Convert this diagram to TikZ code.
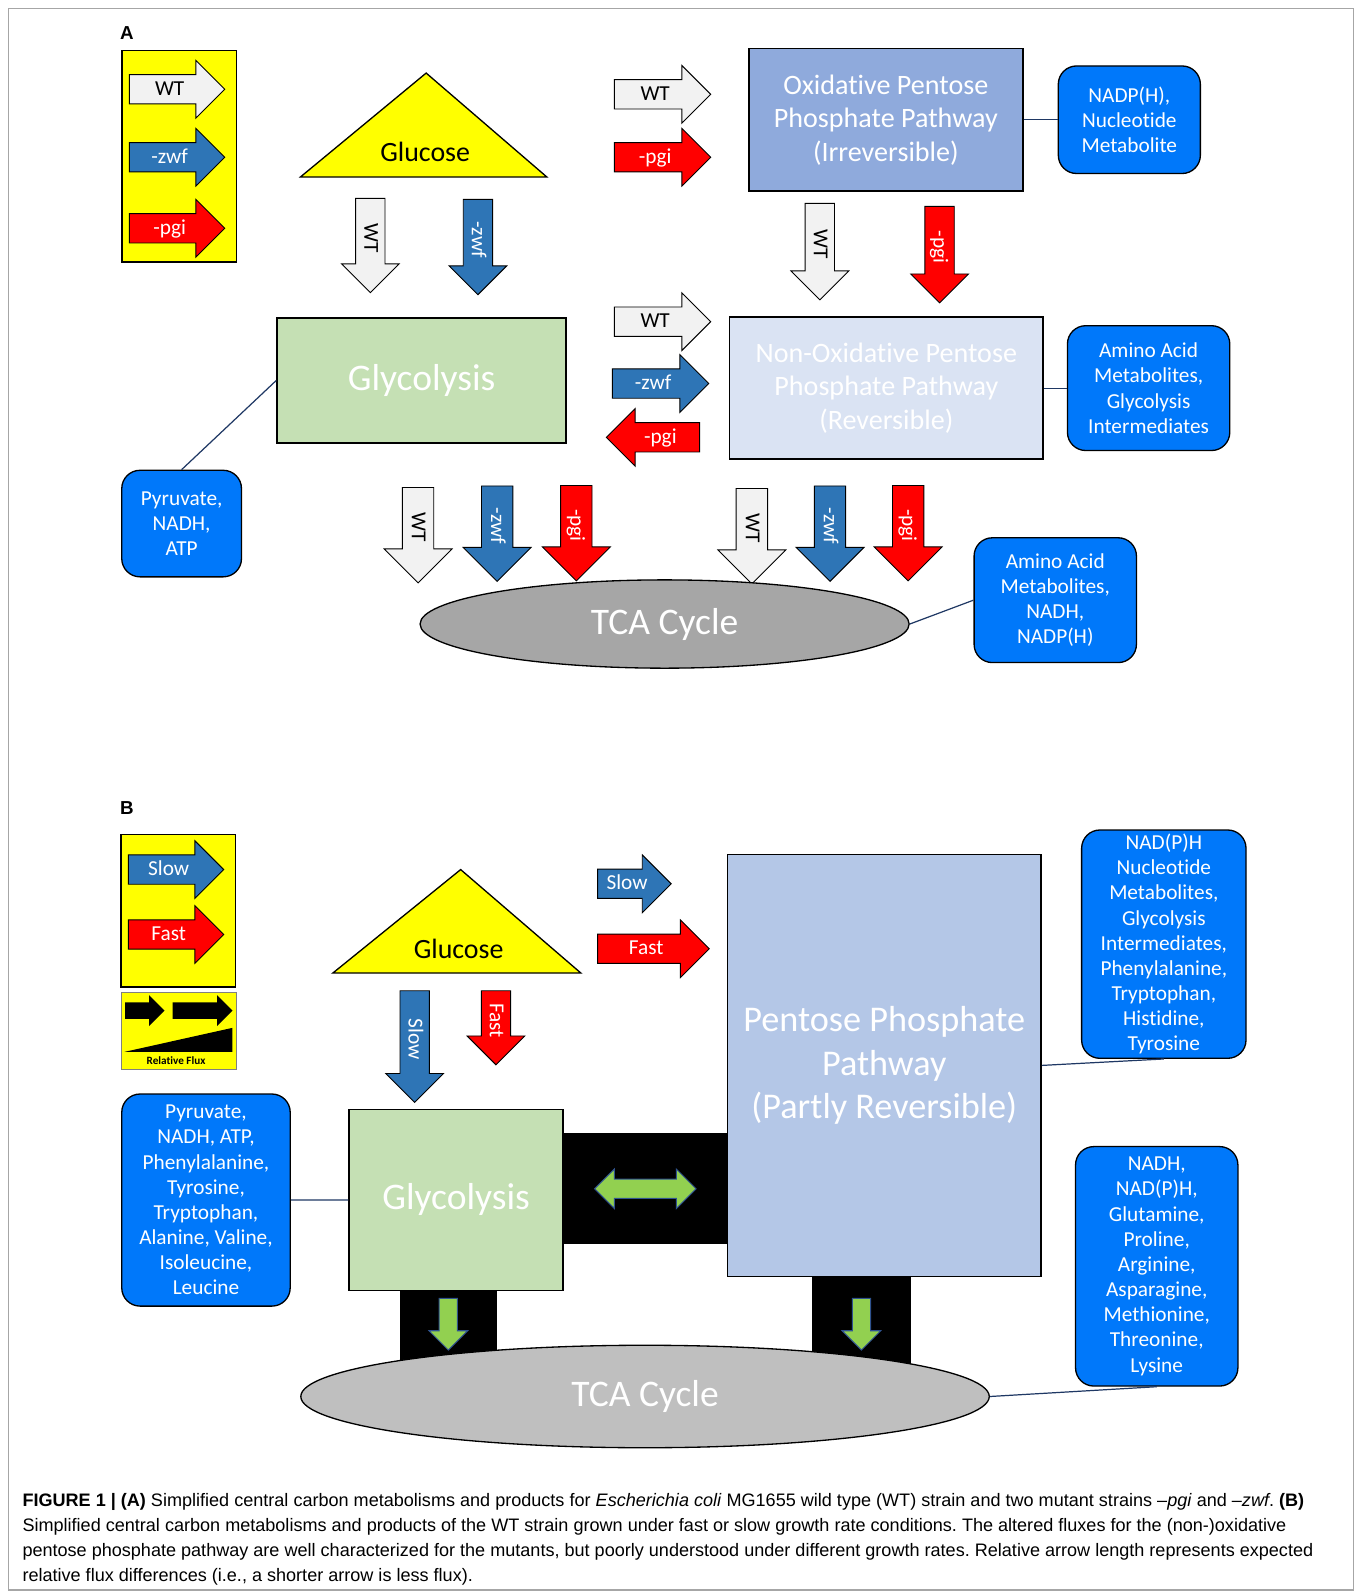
\documentclass[tikz,border=0pt]{standalone}
\usepackage{fontspec}
\setmainfont{Carlito}[Ligatures={TeX,NoCommon}]
\newfontfamily\capfont{Liberation Sans}
\newfontfamily\panelfont{Liberation Sans}
\usetikzlibrary{shapes.arrows, shapes.geometric}
\frenchspacing

\definecolor{wtgray}{HTML}{F2F2F2}
\definecolor{zwfblue}{HTML}{2E75B6}
\definecolor{pgired}{HTML}{FF0000}
\definecolor{legyellow}{HTML}{FFFF00}
\definecolor{glycgreen}{HTML}{C5E0B4}
\definecolor{oxblue}{HTML}{8FAADC}
\definecolor{nonoxblue}{HTML}{DAE3F3}
\definecolor{pppblue}{HTML}{B4C7E7}
\definecolor{infoblue}{HTML}{0078FA}
\definecolor{tcadark}{HTML}{A6A6A6}
\definecolor{tcalight}{HTML}{BFBFBF}
\definecolor{linkblue}{HTML}{1F3864}
\definecolor{fluxgreen}{HTML}{92D050}
\definecolor{fluxedge}{HTML}{2F528F}

\tikzset{
  flux/.style={single arrow, draw=black, line width=0.9pt, single arrow tip angle=90,
    inner xsep=1pt, inner ysep=5pt, text height=15pt, text depth=3pt,
    single arrow head extend=14pt, minimum width=56pt, minimum height=94pt,
    font=\fontsize{21}{21}\selectfont},
  wt/.style={flux, fill=wtgray, text=black},
  zwf/.style={flux, fill=zwfblue, text=white},
  pgi/.style={flux, fill=pgired, text=white},
  todown/.style={rotate=-90, anchor=tail},
  wide/.style={inner ysep=6pt, single arrow head extend=18pt, minimum width=66pt},
  box/.style={draw=black, line width=1.5pt, inner sep=0pt, align=center, text=white},
  info/.style={draw=black, line width=1.3pt, rounded corners=18pt, fill=infoblue,
    text=white, align=center, inner sep=0pt, font=\fontsize{21}{24.8}\selectfont},
  tca/.style={ellipse, draw=black, line width=1.3pt, inner sep=0pt, text=white,
    font=\fontsize{37}{37}\selectfont},
  link/.style={draw=linkblue, line width=1.2pt},
  green/.style={fill=fluxgreen, draw=fluxedge, line width=1pt, inner sep=0pt,
    text height=0pt, text depth=0pt},
}

\begin{document}
\begin{tikzpicture}[x=1pt, y=-1pt]
  \useasboundingbox (0,0) rectangle (1340,1568);
  \fill[white] (0,0) rectangle (1340,1568);
  \draw[gray!70, line width=1pt] (8,8) rectangle (1334,1567);

  % Panel A
  \node[font=\panelfont\bfseries\fontsize{18.5}{18.5}\selectfont] (labA) at (125,33) {A};
  \node[draw=black, line width=1.5pt, fill=legyellow, minimum width=113pt, minimum height=208pt] (legA) at (176.5,154) {};
  \node[wt, anchor=tail] (lwt) at (127,88) {WT};
  \node[zwf, anchor=tail] (lzwf) at (127,155) {-zwf};
  \node[pgi, anchor=tail] (lpgi) at (127,225) {-pgi};

  % Glucose and Glycolysis
  \draw[fill=legyellow, line width=1.3pt] (296,174.5) -- (420,72) -- (539,174.5) -- cycle;
  \node[font=\fontsize{27.5}{27.5}\selectfont] (glucA) at (419,150) {Glucose};
  \node[wt, todown, minimum height=93pt] (g1) at (365,195) {WT};
  \node[zwf, todown] (g2) at (471,196) {-zwf};
  \node[box, fill=glycgreen, minimum width=285pt, minimum height=123pt,
    font=\fontsize{37}{37}\selectfont] (glycA) at (415.5,375) {Glycolysis};

  % Oxidative branch
  \node[wt, anchor=tail, minimum height=95pt] (o1) at (605,93) {WT};
  \node[pgi, anchor=tail, minimum height=95pt] (o2) at (605,155) {-pgi};
  \node[box, fill=oxblue, minimum width=270pt, minimum height=140pt,
    font=\fontsize{27.7}{33}\selectfont] (oxA) at (873,118)
    {Oxidative Pentose\\Phosphate Pathway\\(Irreversible)};
  \node[info, minimum width=140pt, minimum height=106pt] (nadpA) at (1113,118)
    {NADP(H),\\Nucleotide\\Metabolite};
  \node[wt, todown, minimum height=95pt] (d1) at (808,200) {WT};
  \node[pgi, todown, minimum height=95pt] (d2) at (926,203) {-pgi};

  % Non-oxidative branch
  \node[wt, anchor=tail, minimum height=95pt] (m1) at (605,317) {WT};
  \node[zwf, anchor=tail, minimum height=95pt] (m2) at (603,378) {-zwf};
  \node[pgi, shape border rotate=180, anchor=tail, minimum height=92pt] (m3) at (690,431) {-pgi};
  \node[box, fill=nonoxblue, minimum width=309pt, minimum height=140pt,
    font=\fontsize{27.7}{33}\selectfont] (nonoxA) at (873.5,382.5)
    {Non-Oxidative Pentose\\Phosphate Pathway\\(Reversible)};
  \node[info, minimum width=160pt, minimum height=123pt] (aminoA) at (1132,382.5)
    {Amino Acid\\Metabolites,\\Glycolysis\\Intermediates};
  \node[info, minimum width=118pt, minimum height=105pt] (pyrA) at (179,516)
    {Pyruvate,\\NADH,\\ATP};

  % Into the TCA cycle
  \node[wt, wide, todown] (t1) at (412,480) {WT};
  \node[zwf, wide, todown] (t2) at (490,478.5) {-zwf};
  \node[pgi, wide, todown] (t3) at (568,478) {-pgi};
  \node[wt, wide, todown] (t4) at (741,481) {WT};
  \node[zwf, wide, todown] (t5) at (818,478.5) {-zwf};
  \node[pgi, wide, todown] (t6) at (895,478) {-pgi};
  \node[tca, fill=tcadark, minimum width=482pt, minimum height=87pt] (tcaA) at (655,615) {TCA Cycle};
  \node[info, minimum width=160pt, minimum height=123pt] (aminoB) at (1040,591.5)
    {Amino Acid\\Metabolites,\\NADH,\\NADP(H)};

  % Links
  \draw[link] (oxA.east) -- (nadpA.west);
  \draw[link] (nonoxA.east) -- (aminoA.west);
  \draw[link] (pyrA.north) -- (glycA.west);
  \draw[link] (tcaA.east) -- (aminoB.west);

  % Panel B
  \node[font=\panelfont\bfseries\fontsize{18.5}{18.5}\selectfont] (labB) at (125,796) {B};
  \node[draw=black, line width=1.5pt, fill=legyellow, minimum width=113pt, minimum height=150pt] (legB) at (175.5,897.5) {};
  \node[zwf, anchor=tail] (lslow) at (126,857) {Slow};
  \node[pgi, anchor=tail] (lfast) at (126,921) {Fast};
  \node[draw=gray, line width=0.8pt, fill=legyellow, minimum width=113pt, minimum height=76pt] (relB) at (176.5,1016) {};
  \node[single arrow, fill=black, single arrow tip angle=90, inner sep=0pt, inner ysep=8pt,
    text height=0pt, text depth=0pt, single arrow head extend=7pt, minimum width=30pt,
    minimum height=39pt, anchor=tail] (r1) at (123,996) {};
  \node[single arrow, fill=black, single arrow tip angle=90, inner sep=0pt, inner ysep=8pt,
    text height=0pt, text depth=0pt, single arrow head extend=7pt, minimum width=30pt,
    minimum height=59pt, anchor=tail] (r2) at (170,996) {};
  \fill[black] (122.5,1036.7) -- (229,1013) -- (229,1036.7) -- cycle;
  \node[font=\bfseries\fontsize{11}{11}\selectfont] (relflux) at (173.5,1045.5) {Relative Flux};

  \draw[fill=legyellow, line width=1.3pt] (328,959) -- (454,857) -- (572.5,959) -- cycle;
  \node[font=\fontsize{27.5}{27.5}\selectfont] (glucB) at (452,935) {Glucose};
  \node[zwf, todown, minimum height=110pt] (s1) at (408.7,976) {Slow};
  \node[pgi, todown, minimum height=73pt] (f1) at (488.8,976) {Fast};
  \node[zwf, anchor=tail, minimum height=72.5pt] (s2) at (588.5,871) {Slow};
  \node[pgi, anchor=tail, minimum height=110pt] (f2) at (588.6,935) {Fast};

  % Black channels
  \fill[black] (550,1116.6) rectangle (720,1226);
  \fill[black] (393.8,1260) rectangle (490,1380);
  \fill[black] (800.4,1250) rectangle (897.7,1380);

  \node[box, fill=glycgreen, minimum width=211pt, minimum height=178pt,
    font=\fontsize{37}{37}\selectfont] (glycB) at (449.5,1182.6) {Glycolysis};
  \node[box, fill=pppblue, minimum width=309pt, minimum height=416pt,
    font=\fontsize{35.7}{43}\selectfont] (pppB) at (871.5,1050)
    {Pentose Phosphate\\Pathway\\(Partly Reversible)};
  \node[tca, fill=tcalight, minimum width=678.5pt, minimum height=101pt] (tcaB) at (635.7,1376.3) {TCA Cycle};

  \node[double arrow, green, double arrow tip angle=90, inner ysep=9pt,
    double arrow head extend=10pt, minimum width=38pt, minimum height=100pt] (dbl) at (636,1171.6) {};
  \node[single arrow, green, single arrow tip angle=90, inner ysep=8.5pt,
    single arrow head extend=10pt, minimum width=37pt, minimum height=51pt, todown] (gd1) at (441.8,1279) {};
  \node[single arrow, green, single arrow tip angle=90, inner ysep=8.5pt,
    single arrow head extend=10pt, minimum width=37pt, minimum height=51pt, todown] (gd2) at (849,1279) {};

  \node[info, minimum width=166pt, minimum height=209pt] (pyrB) at (203,1182.7)
    {Pyruvate,\\NADH, ATP,\\Phenylalanine,\\Tyrosine,\\Tryptophan,\\Alanine, Valine,\\Isoleucine,\\Leucine};
  \node[info, minimum width=162pt, minimum height=225pt] (nucB) at (1147,930.5)
    {NAD(P)H\\Nucleotide\\Metabolites,\\Glycolysis\\Intermediates,\\Phenylalanine,\\Tryptophan,\\Histidine,\\Tyrosine};
  \node[info, minimum width=160pt, minimum height=236pt] (aaB) at (1140,1248)
    {NADH,\\NAD(P)H,\\Glutamine,\\Proline,\\Arginine,\\Asparagine,\\Methionine,\\Threonine,\\Lysine};

  \draw[link] (pyrB.east) -- (glycB.west);
  \draw[link] (pppB.east) -- (nucB.south);
  \draw[link] (tcaB.east) -- (aaB.south);

  % Caption
  \node[anchor=base west, align=left, inner sep=0pt, font=\capfont\fontsize{17.8}{24.7}\selectfont] (cap) at (22,1559)
    {\textbf{FIGURE 1 | (A)} Simplified central carbon metabolisms and products for \textit{Escherichia coli} MG1655 wild type (WT) strain and two mutant strains –\textit{pgi} and –\textit{zwf}. \textbf{(B)}\\
     Simplified central carbon metabolisms and products of the WT strain grown under fast or slow growth rate conditions. The altered fluxes for the (non-)oxidative\\
     pentose phosphate pathway are well characterized for the mutants, but poorly understood under different growth rates. Relative arrow length represents expected\\
     relative flux differences (i.e., a shorter arrow is less flux).};
\end{tikzpicture}
\end{document}
